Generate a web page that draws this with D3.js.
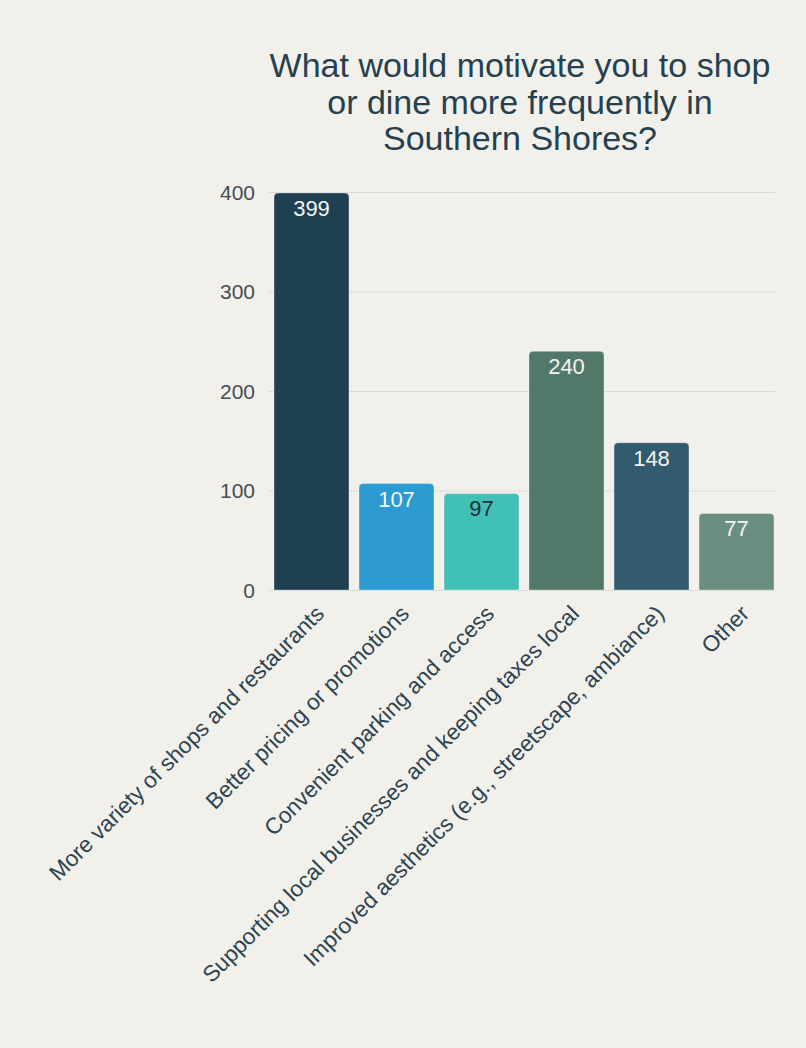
<!DOCTYPE html>
<html>
<head>
<meta charset="utf-8">
<script src="https://cdn.jsdelivr.net/npm/d3@7"></script>
<style>
  html, body { margin: 0; padding: 0; background: #f2f0eb; }
  svg { display: block; }
</style>
</head>
<body>
<svg id="chart" width="806" height="1048"></svg>
<script>
// Survey responses: motivations to shop or dine more in Southern Shores
const categories = [
  "More variety of shops and restaurants",
  "Better pricing or promotions",
  "Convenient parking and access",
  "Supporting local businesses and keeping taxes local",
  "Improved aesthetics (e.g., streetscape, ambiance)",
  "Other"
];
const counts = [399, 107, 97, 240, 148, 77];
const barColors = ["#1f4052", "#2b9bd1", "#41c1b6", "#52786a", "#335b6e", "#6a8f80"];
const labelColors = ["#f4f4f2", "#f4f4f2", "#1c2f36", "#f4f4f2", "#f4f4f2", "#f4f4f2"];
const yTicks = [0, 100, 200, 300, 400];
const titleLines = [
  "What would motivate you to shop",
  "or dine more frequently in",
  "Southern Shores?"
];

const font = "'Liberation Sans', Arial, Helvetica, sans-serif";
const svg = d3.select("#chart");

svg.append("rect").attr("width", 806).attr("height", 1048).attr("fill", "#f2f0eb");

const plot = { left: 269, right: 779, top: 192, bottom: 590 };

const x = d3.scaleBand()
  .domain(categories)
  .range([plot.left, plot.right])
  .paddingInner(10 / 85)
  .paddingOuter(5 / 85);

const y = d3.scaleLinear()
  .domain([0, 400])
  .range([plot.bottom, plot.top]);

// Title
svg.append("text")
  .attr("x", 520)
  .attr("y", 77)
  .attr("text-anchor", "middle")
  .attr("font-family", font)
  .attr("font-size", 34)
  .attr("fill", "#25414f")
  .selectAll("tspan")
  .data(titleLines)
  .join("tspan")
  .attr("x", 520)
  .attr("dy", (d, i) => i === 0 ? 0 : 36.5)
  .text(d => d);

// Horizontal gridlines and y-axis labels
const yAxis = d3.axisLeft(y)
  .tickValues(yTicks)
  .tickSize(-(plot.right - 4 - plot.left))
  .tickPadding(14)
  .tickFormat(d3.format("d"));

const yg = svg.append("g")
  .attr("transform", `translate(${plot.left},0)`)
  .call(yAxis);
yg.select(".domain").remove();
yg.selectAll(".tick line").attr("stroke", "#dcdad4").attr("stroke-width", 1.2);
yg.selectAll(".tick text")
  .attr("font-family", font)
  .attr("font-size", 21)
  .attr("fill", "#454d52")
  .attr("x", 255 - plot.left)
  .attr("dy", "0.35em");

// Bars with slightly rounded top corners
const r = 4;
function barPath(x0, y0, w, y1) {
  return `M${x0},${y1}V${y0 + r}Q${x0},${y0} ${x0 + r},${y0}H${x0 + w - r}Q${x0 + w},${y0} ${x0 + w},${y0 + r}V${y1}Z`;
}

svg.append("g")
  .selectAll("path")
  .data(categories)
  .join("path")
  .attr("d", (c, i) => barPath(x(c), y(counts[i]), x.bandwidth(), y(0)))
  .attr("fill", (c, i) => barColors[i])
  .attr("stroke", "rgba(255,255,255,0.35)")
  .attr("stroke-width", 1);

// Value labels inside each bar
svg.append("g")
  .selectAll("text")
  .data(categories)
  .join("text")
  .attr("x", c => x(c) + x.bandwidth() / 2)
  .attr("y", (c, i) => y(counts[i]) + 23)
  .attr("text-anchor", "middle")
  .attr("font-family", font)
  .attr("font-size", 22)
  .attr("fill", (c, i) => labelColors[i])
  .text((c, i) => counts[i]);

// Rotated category labels
const xAxis = d3.axisBottom(x).tickSize(0).tickPadding(0);
const xg = svg.append("g")
  .attr("transform", `translate(0,${plot.bottom})`)
  .call(xAxis);
xg.select(".domain").remove();
xg.selectAll(".tick text")
  .attr("font-family", font)
  .attr("font-size", 22.5)
  .attr("fill", "#2e4450")
  .attr("text-anchor", "end")
  .attr("dy", null)
  .attr("y", null)
  .attr("transform", "translate(14,25) rotate(-45)");
</script>
</body>
</html>
